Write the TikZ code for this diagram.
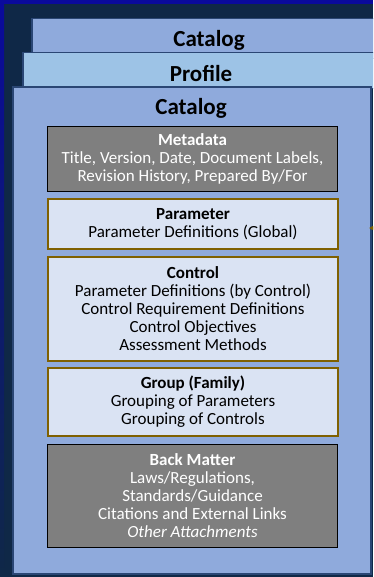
\documentclass[tikz,border=0pt]{standalone}
\usepackage{fontspec}
\setmainfont{Carlito}
\usetikzlibrary{arrows.meta}

\definecolor{navybg}{HTML}{0F2847}
\definecolor{edgeblue}{HTML}{0A0A9C}
\definecolor{catfill}{HTML}{8FAADC}
\definecolor{proffill}{HTML}{9DC3E6}
\definecolor{frameblue}{HTML}{2A4674}
\definecolor{grayfill}{HTML}{7F7F7F}
\definecolor{lightfill}{HTML}{DAE3F3}
\definecolor{goldline}{HTML}{7F6000}

\tikzset{
  layer/.style={draw=frameblue, line width=1.5pt, anchor=north west, inner sep=0pt},
  title/.style={anchor=base, font=\fontsize{23}{26}\selectfont\bfseries, text=black, inner sep=0pt},
  section/.style={anchor=north west, inner sep=0pt, minimum width=290pt, align=center,
    font=\fontsize{17}{18}\selectfont},
  darkbox/.style={section, fill=grayfill, draw=black, line width=1pt, text=white},
  lightbox/.style={section, fill=lightfill, draw=goldline, line width=2pt, text=black},
}

\begin{document}
\begin{tikzpicture}[x=1pt,y=-1pt]
\useasboundingbox (0,0) rectangle (373,577);
\clip (0,0) rectangle (373,577);

% backdrop with its blue rim
\fill[navybg] (0,0) rectangle (373,577);
\fill[edgeblue] (0,0) rectangle (373,4);
\shade[top color=edgeblue, bottom color=navybg] (0,0) rectangle (4,577);

% stacked documents
\node[layer, fill=catfill, minimum width=356pt, minimum height=40pt] (backCat) at (31,18) {};
\node[title] (backCatTitle) at (209,46.5) {Catalog};
\node[layer, fill=proffill, minimum width=357pt, minimum height=36pt] (prof) at (22,52) {};
\node[title] (profTitle) at (201,82) {Profile};
\node[layer, fill=catfill, line width=2pt, minimum width=358pt, minimum height=487pt] (mainCat) at (12,86) {};
\node[title] (mainCatTitle) at (191,115) {Catalog};

% catalog sections
\node[darkbox, minimum height=65pt] (meta) at (47,126)
  {\textbf{Metadata}\\Title, Version, Date, Document Labels,\\Revision History, Prepared By/For};
\node[lightbox, minimum height=50pt] (param) at (47,198)
  {\textbf{Parameter}\\Parameter Definitions (Global)};
\node[lightbox, minimum height=104pt] (ctrl) at (47,256)
  {\textbf{Control}\\Parameter Definitions (by Control)\\Control Requirement Definitions\\Control Objectives\\Assessment Methods};
\node[lightbox, minimum height=68pt] (grp) at (47,367)
  {\textbf{Group (Family)}\\Grouping of Parameters\\Grouping of Controls};
\node[darkbox, minimum height=103pt] (back) at (47,444)
  {\textbf{Back Matter}\\Laws/Regulations,\\Standards/Guidance\\Citations and External Links\\\textit{Other Attachments}};

% incoming reference from the right
\coordinate (feed) at (390,228);
\draw[goldline, line width=1.2pt, -{Stealth[length=6pt,width=6pt]}] (feed) -- ([xshift=-3pt]mainCat.east |- feed);
\end{tikzpicture}
\end{document}
